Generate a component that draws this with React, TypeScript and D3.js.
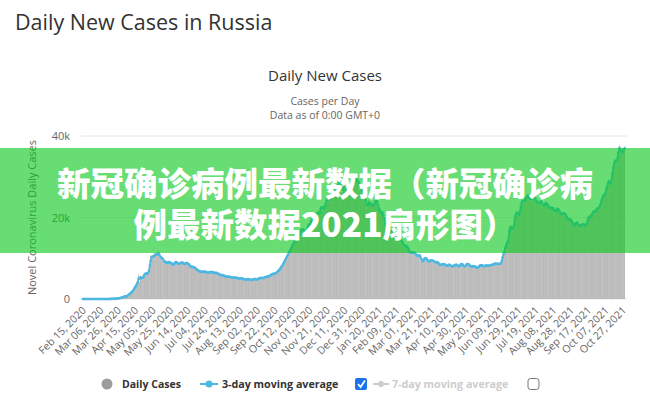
import React from "react";
import * as d3 from "d3";

// daily new cases, one array per month (Feb 15, 2020 .. Oct 29, 2021)
const feb2020 = [0, 0, 0, 0, 0, 0, 0, 0, 0, 0, 0, 0, 0, 0, 0];
const mar2020 = [0, 1, 0, 0, 1, 6, 4, 0, 1, 3, 8, 6, 14, 14, 4, 30, 21, 33, 52, 54, 53, 61, 71, 57, 163, 182, 196, 228, 270, 302, 500];
const apr2020 = [440, 771, 601, 582, 658, 954, 1154, 1175, 1459, 1786, 1667, 2186, 2558, 2774, 3388, 3448, 4070, 4785, 6060, 4268, 5642, 5236, 4774, 5849, 5966, 6361, 6198, 6411, 5841, 7099];
const may2020 = [7933, 9623, 10633, 10581, 10102, 10559, 11231, 10699, 10817, 11012, 11656, 10899, 10028, 9974, 10598, 9200, 9709, 8926, 9263, 8764, 8849, 8894, 9434, 8599, 8946, 8915, 8338, 8371, 8572, 8952, 9268];
const jun2020 = [9035, 8536, 8536, 8831, 8726, 8855, 8984, 8985, 8595, 8404, 8779, 8987, 8706, 8835, 8246, 8248, 7843, 7790, 7972, 7889, 7728, 7600, 7425, 7176, 7113, 6800, 6852, 6693, 6719, 6693];
const jul2020 = [6556, 6760, 6632, 6736, 6611, 6368, 6562, 6509, 6635, 6632, 6615, 6611, 6537, 6248, 6422, 6428, 6406, 6234, 6109, 6065, 5842, 5862, 5811, 5871, 5765, 5635, 5395, 5475, 5509, 5482, 5462];
const aug2020 = [5427, 5462, 5159, 5204, 5241, 5267, 5212, 5241, 5189, 5118, 4945, 5102, 5057, 5065, 5061, 4969, 4839, 4718, 4790, 4767, 4838, 4921, 4852, 4696, 4676, 4711, 4676, 4829, 4980, 4897, 4729];
const sep2020 = [4729, 4952, 4995, 5110, 5205, 5195, 5185, 5099, 5218, 5363, 5406, 5449, 5509, 5529, 5670, 5670, 5905, 6065, 6148, 6196, 6215, 6234, 6431, 6595, 6800, 7000, 7300, 7600, 7900, 8200];
const oct2020 = [8600, 9000, 9400, 9800, 10300, 10600, 11100, 11500, 11800, 12300, 12800, 13300, 13600, 14000, 14300, 15000, 15100, 15600, 15900, 16300, 16500, 17000, 17300, 16700, 17300, 16600, 16200, 16600, 17700, 18200, 18100];
const nov2020 = [18665, 18648, 19768, 19404, 19768, 20582, 20498, 20396, 20977, 21798, 19851, 21608, 21983, 22702, 22778, 21798, 22410, 22410, 23610, 24318, 24581, 24822, 24318, 25173, 23675, 25487, 27543, 26338, 26683, 26402];
const dec2020 = [25345, 26758, 28145, 28585, 28782, 29039, 28142, 26097, 26190, 28585, 28585, 29039, 28137, 27328, 26689, 26509, 27039, 28214, 28209, 28552, 28948, 27787, 29499, 29935, 29258, 28284, 29018, 27977, 26513, 27039, 27002];
const jan2021 = [27747, 26301, 25246, 24150, 23351, 22000, 23541, 24246, 23309, 22851, 23315, 22934, 22857, 23652, 24092, 24715, 24217, 22566, 22178, 21734, 21127, 21152, 20921, 21513, 19290, 18359, 17648, 18241, 19032, 19138, 19238];
const feb2021 = [17648, 16986, 16714, 16643, 16688, 16627, 16048, 15916, 14861, 14494, 14741, 15224, 14185, 14207, 14494, 13233, 12828, 13433, 12742, 12953, 12742, 12349, 11534, 11359, 11198, 11534, 11284, 11571];
const mar2021 = [11024, 11385, 10535, 10595, 10623, 10880, 10445, 10595, 9270, 9079, 9445, 9908, 10188, 9908, 9851, 9393, 9164, 9299, 9369, 9632, 9284, 9393, 9443, 8769, 9114, 9073, 9037, 8911, 8704, 8162, 8277];
const apr2021 = [8400, 8600, 8500, 8700, 8400, 8100, 8000, 8300, 8300, 8500, 8400, 8000, 7900, 8000, 8200, 8400, 8300, 8400, 8400, 8000, 7800, 8300, 8600, 8700, 8500, 8100, 7900, 8000, 8400, 8600];
const may2021 = [8800, 8400, 8300, 8000, 7900, 8100, 8000, 8100, 8000, 8000, 7500, 7700, 7900, 7900, 8200, 8500, 8200, 8200, 8100, 8100, 7900, 8400, 8400, 7900, 8200, 8400, 8300, 8200, 8500, 8500, 8400];
const jun2021 = [8600, 8900, 8600, 8500, 8700, 8800, 8400, 8600, 9200, 10400, 11000, 11700, 12500, 13500, 13700, 14000, 14700, 17200, 17900, 17600, 17400, 16700, 17600, 20200, 20400, 21000, 21700, 20500, 20600, 21000];
const jul2021 = [23500, 23200, 24400, 24400, 23400, 24700, 24800, 25100, 25800, 25100, 24100, 24400, 25100, 23800, 25300, 25700, 25000, 24200, 23800, 23800, 23700, 23700, 23700, 23900, 24100, 22800, 22400, 23300, 23600, 23300, 23800];
const aug2021 = [22600, 22800, 22100, 22600, 22400, 22200, 22300, 22200, 20800, 21600, 22200, 21900, 22300, 21600, 21000, 20800, 20900, 21100, 20900, 21000, 21000, 20400, 19600, 19500, 19600, 19700, 19300, 19300, 18800, 18300, 18200];
const sep2021 = [17900, 18800, 18900, 18600, 18100, 17600, 17900, 18300, 18300, 18100, 18600, 18200, 17900, 18200, 18800, 19600, 20200, 20300, 20200, 20300, 21000, 21600, 21400, 21400, 21400, 22200, 22400, 22200, 22400, 23100];
const oct2021 = [23900, 24500, 25100, 25800, 25100, 25800, 27200, 27600, 28200, 29400, 28600, 28200, 28700, 31300, 32200, 33200, 34300, 33700, 33700, 34300, 36300, 37100, 37700, 35700, 35700, 36400, 36600, 37000, 37400];

const dailyCases = [
  ...feb2020, ...mar2020, ...apr2020, ...may2020, ...jun2020, ...jul2020,
  ...aug2020, ...sep2020, ...oct2020, ...nov2020, ...dec2020,
  ...jan2021, ...feb2021, ...mar2021, ...apr2021, ...may2021, ...jun2021,
  ...jul2021, ...aug2021, ...sep2021, ...oct2021,
];

// one label every 20 days
const tickLabels = [
  "Feb 15, 2020", "Mar 06, 2020", "Mar 26, 2020", "Apr 15, 2020", "May 05, 2020",
  "May 25, 2020", "Jun 14, 2020", "Jul 04, 2020", "Jul 24, 2020", "Aug 13, 2020",
  "Sep 02, 2020", "Sep 22, 2020", "Oct 12, 2020", "Nov 01, 2020", "Nov 21, 2020",
  "Dec 11, 2020", "Dec 31, 2020", "Jan 20, 2021", "Feb 09, 2021", "Mar 01, 2021",
  "Mar 21, 2021", "Apr 10, 2021", "Apr 30, 2021", "May 20, 2021", "Jun 09, 2021",
  "Jun 29, 2021", "Jul 19, 2021", "Aug 08, 2021", "Aug 28, 2021", "Sep 17, 2021",
  "Oct 07, 2021", "Oct 27, 2021",
];
const tickStep = 20;
const yTicks = [0, 20000, 40000];
const bannerLines = ["新冠确诊病例最新数据（新冠确诊病", "例最新数据2021扇形图）"];

const font = "'Open Sans', 'DejaVu Sans', sans-serif";
const barColor = "#9c9c9c";
const lineColor = "#4db8e2";

export default function App() {
  const plotLeft = 82.5;
  const plotRight = 625;
  const plotTop = 136;
  const plotBottom = 299;

  const x = d3
    .scaleBand<number>()
    .domain(d3.range(dailyCases.length))
    .range([plotLeft, plotRight])
    .paddingInner(0.25);
  const cx = (i: number) => (x(i) as number) + x.bandwidth() / 2;

  const y = d3.scaleLinear().domain([0, 40000]).range([plotBottom, plotTop]);

  // 3-day moving average of the daily values
  const avg3 = dailyCases.map((_, i) =>
    d3.mean(dailyCases.slice(Math.max(0, i - 2), i + 1)) as number
  );

  const line = d3
    .line<number>()
    .x((_, i) => cx(i))
    .y((d) => y(d));

  return (
    <svg
      width={650}
      height={402}
      style={{ position: "absolute", left: 0, top: 0, background: "#fff" }}
      fontFamily={font}
    >
      <rect width={650} height={402} fill="#fff" />
      <text x={15} y={30} fontSize={21.5} fill="#333">
        Daily New Cases in Russia
      </text>

      <text x={325} y={81} textAnchor="middle" fontSize={15} fill="#333">
        Daily New Cases
      </text>
      <text x={325} y={105} textAnchor="middle" fontSize={10.5} fill="#666">
        Cases per Day
      </text>
      <text x={325} y={119} textAnchor="middle" fontSize={10.5} fill="#666">
        Data as of 0:00 GMT+0
      </text>

      {/* grid + y labels */}
      {yTicks.map((t) => (
        <g key={t}>
          <line x1={plotLeft - 2} x2={plotRight + 2} y1={y(t)} y2={y(t)} stroke="#e6e6e6" />
          <text x={70} y={y(t) + 4} textAnchor="end" fontSize={11} fill="#666">
            {t === 0 ? "0" : `${t / 1000}k`}
          </text>
        </g>
      ))}
      <text
        transform={`translate(36,${(plotTop + plotBottom) / 2}) rotate(-90)`}
        textAnchor="middle"
        fontSize={11}
        fill="#666"
      >
        Novel Coronavirus Daily Cases
      </text>

      {/* bars */}
      {dailyCases.map((d, i) => (
        <rect
          key={i}
          x={x(i)}
          y={y(d)}
          width={x.bandwidth()}
          height={plotBottom - y(d)}
          fill={barColor}
        />
      ))}

      {/* 3-day moving average */}
      <path d={line(avg3) as string} fill="none" stroke={lineColor} strokeWidth={1.5} />
      {avg3.map((d, i) => (
        <circle key={i} cx={cx(i)} cy={y(d)} r={1.3} fill={lineColor} />
      ))}

      {/* x labels */}
      {tickLabels.map((lab, k) => {
        const tx = cx(k * tickStep);
        return (
          <text
            key={lab}
            transform={`translate(${tx + 4},${plotBottom + 12}) rotate(-45)`}
            textAnchor="end"
            fontSize={10.5}
            fill="#666"
          >
            {lab}
          </text>
        );
      })}

      {/* legend */}
      <circle cx={107} cy={384} r={5.5} fill={barColor} />
      <text x={122} y={388} fontSize={10.5} fontWeight="bold" fill="#333">
        Daily Cases
      </text>
      <line x1={200} x2={218} y1={384} y2={384} stroke={lineColor} strokeWidth={2} />
      <circle cx={209} cy={384} r={3.5} fill={lineColor} />
      <text x={222} y={388} fontSize={10.7} fontWeight="bold" fill="#333">
        3-day moving average
      </text>
      <rect x={355} y={378} width={12} height={12} rx={2} fill="#1a73e8" />
      <path d="M358,384 L360.5,387 L365,380.5" fill="none" stroke="#fff" strokeWidth={1.8} />
      <line x1={373} x2={389} y1={384} y2={384} stroke="#ccc" strokeWidth={2} />
      <circle cx={381} cy={384} r={3} fill="#ccc" />
      <text x={392} y={388} fontSize={10.7} fontWeight="bold" fill="#ccc">
        7-day moving average
      </text>
      <rect x={528} y={378.5} width={11} height={11} rx={2.5} fill="#fff" stroke="#777" />

      {/* overlay banner */}
      <rect x={0} y={148} width={650} height={105} fill="rgb(10,200,30)" opacity={0.62} />
      {bannerLines.map((t, i) => (
        <text
          key={i}
          x={325}
          y={196 + i * 41}
          textAnchor="middle"
          fontSize={33.5}
          fontWeight={900}
          fill="#fff"
          fontFamily="'Noto Sans CJK SC', sans-serif"
        >
          {t}
        </text>
      ))}
    </svg>
  );
}
